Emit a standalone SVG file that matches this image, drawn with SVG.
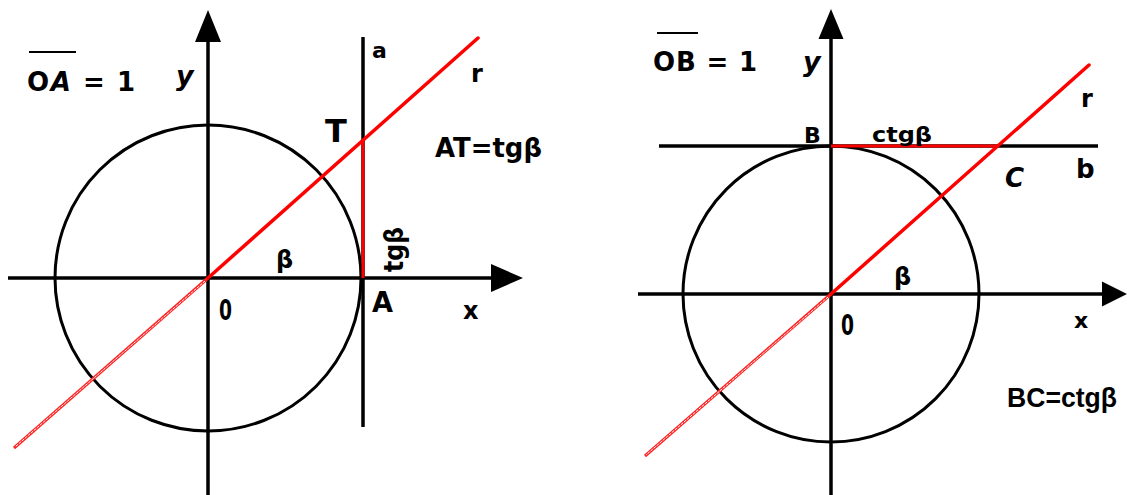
<svg xmlns="http://www.w3.org/2000/svg" width="1127" height="495" viewBox="0 0 1127 495">
  <style>
    .ax { stroke: #000; stroke-width: 3.5; fill: none; }
    .circ { stroke: #000; stroke-width: 3; fill: none; }
    .ov { stroke: #000; stroke-width: 2; }
    .head { fill: #000; stroke: none; }
    .red { stroke: #ff0000; stroke-width: 3.5; fill: none; stroke-linecap: round; }
    .redlo { stroke: #ff2020; stroke-width: 3; fill: none; }
    .redlo-in { stroke: #fff; stroke-width: 1; fill: none; stroke-dasharray: 3 1; }
    .seg { stroke: #ff0000; stroke-width: 3; fill: none; }
    text { font-family: "DejaVu Sans", "Liberation Sans", sans-serif; font-weight: bold; fill: #000; }
    .it { font-style: italic; }
    .ls { font-family: "Liberation Sans", "DejaVu Sans", sans-serif; }
  </style>
  <rect width="1127" height="495" fill="#fff"/>

  <g id="left-diagram">
    <g id="left-axes">
      <line class="ax" x1="208" y1="40" x2="208" y2="495"/>
      <polygon class="head" points="208,10 195,42 221,42"/>
      <line class="ax" x1="8" y1="278" x2="493" y2="278"/>
      <polygon class="head" points="523,278 491,264 491,292"/>
      <line class="ax" x1="363" y1="37" x2="363" y2="427"/>
    </g>
    <circle id="left-circle" class="circ" cx="208" cy="278" r="153"/>
    <g id="left-ray">
      <line class="redlo" x1="208" y1="278" x2="14" y2="448"/>
      <line class="redlo-in" x1="205" y1="281" x2="15" y2="447"/>
      <line class="red" x1="208" y1="278" x2="478" y2="38"/>
      <line class="seg" x1="363" y1="141" x2="363" y2="278"/>
    </g>
    <g id="left-labels">
      <line class="ov" x1="29" y1="52" x2="76" y2="52"/>
      <text x="27" y="91" font-size="26" textLength="108" lengthAdjust="spacing">O<tspan class="it">A</tspan> = 1</text>
      <text class="it" x="176" y="85" font-size="27">y</text>
      <text x="372" y="58" font-size="22">a</text>
      <text x="471" y="82" font-size="24">r</text>
      <text x="325" y="142" font-size="32">T</text>
      <text x="435" y="157" font-size="26" textLength="107" lengthAdjust="spacingAndGlyphs">AT=tgβ</text>
      <text x="276" y="268" font-size="24">β</text>
      <text x="219" y="320" font-size="28" textLength="13" lengthAdjust="spacingAndGlyphs">0</text>
      <text x="372" y="312" font-size="28" textLength="21" lengthAdjust="spacingAndGlyphs">A</text>
      <text x="463" y="319" font-size="24">x</text>
      <text transform="translate(403,272) rotate(-90)" x="0" y="0" font-size="26" textLength="45" lengthAdjust="spacingAndGlyphs">tgβ</text>
    </g>
  </g>

  <g id="right-diagram">
    <g id="right-axes">
      <line class="ax" x1="831" y1="37" x2="831" y2="495"/>
      <polygon class="head" points="831,9 818.5,39 843.5,39"/>
      <line class="ax" x1="638" y1="294" x2="1104" y2="294"/>
      <polygon class="head" points="1127,294 1102,281.5 1102,306.5"/>
      <line class="ax" x1="659" y1="146" x2="1098" y2="146"/>
    </g>
    <circle id="right-circle" class="circ" cx="831" cy="294" r="148"/>
    <g id="right-ray">
      <line class="redlo" x1="831" y1="294" x2="645" y2="456"/>
      <line class="redlo-in" x1="828" y1="297" x2="646" y2="455"/>
      <line class="red" x1="831" y1="294" x2="1089" y2="65"/>
      <line class="seg" x1="831" y1="146" x2="999" y2="146"/>
    </g>
    <g id="right-labels">
      <line class="ov" x1="657" y1="33" x2="698" y2="33"/>
      <text x="653" y="71" font-size="26" textLength="104" lengthAdjust="spacing">OB = 1</text>
      <text class="it" x="803" y="71" font-size="27">y</text>
      <text x="804" y="143" font-size="22">B</text>
      <text x="872" y="142" font-size="22" textLength="60" lengthAdjust="spacingAndGlyphs">ctgβ</text>
      <text x="1081" y="107" font-size="24">r</text>
      <text class="it" x="1005" y="187" font-size="26">C</text>
      <text x="1076" y="178" font-size="26">b</text>
      <text x="894" y="285" font-size="24">β</text>
      <text x="841" y="335" font-size="28" textLength="13" lengthAdjust="spacingAndGlyphs">0</text>
      <text x="1074" y="328" font-size="22">x</text>
      <text class="ls" x="1007" y="407" font-size="27" textLength="110" lengthAdjust="spacingAndGlyphs">BC=ctgβ</text>
    </g>
  </g>
</svg>
